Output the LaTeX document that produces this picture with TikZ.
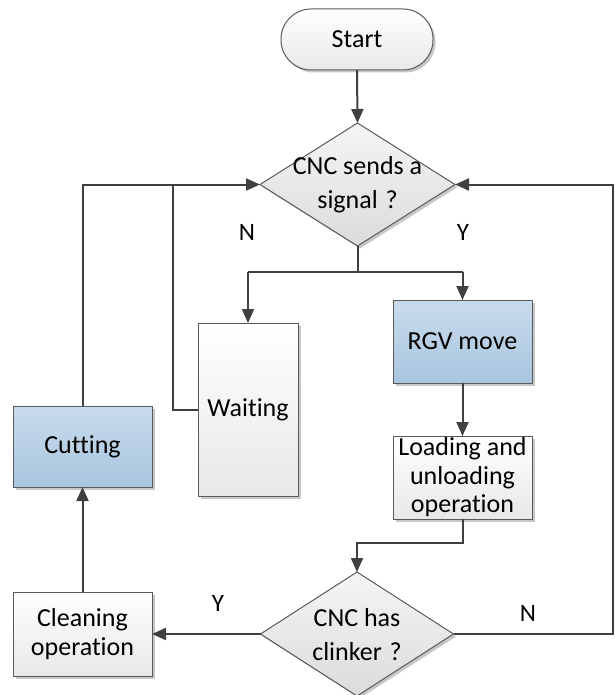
\documentclass[tikz,border=0pt]{standalone}
\usepackage{fontspec}
\setmainfont[Ligatures={NoCommon}]{Carlito}
\usetikzlibrary{shapes.geometric,shadows,arrows.meta}
\definecolor{ln}{HTML}{404040}
\definecolor{edge}{HTML}{5A5A5A}
\definecolor{bluetop}{HTML}{C8DBEC}
\definecolor{bluebot}{HTML}{A9C5DF}
\definecolor{greybot}{HTML}{E8E8E8}
\begin{document}
\begin{tikzpicture}[x=1pt,y=-1pt,
  conn/.style={draw=ln, line width=2pt},
  arr/.style={conn, -{Triangle[length=14pt,width=12pt]}},
  shad/.style={drop shadow={shadow xshift=2.5pt, shadow yshift=-2.5pt, fill=black, opacity=0.22}},
  box/.style={rectangle, draw=edge, line width=1pt, inner sep=0pt, outer sep=0pt,
    align=center, font=\fontsize{26}{28.5}\selectfont, shad},
  bluebox/.style={box, top color=bluetop, bottom color=bluebot},
  whitebox/.style={box, top color=white, bottom color=greybot},
  dia/.style={diamond, draw=edge, line width=1pt, inner sep=0pt, outer sep=0pt,
    top color=white!96!black, bottom color=white!86!black, shad},
  diatext/.style={align=center, inner sep=0pt, font=\fontsize{26}{34}\selectfont},
  lbl/.style={inner sep=0pt, font=\fontsize{25}{28}\selectfont}
]
\useasboundingbox (0,0) rectangle (614,695);

% nodes
\node[whitebox, rounded corners=30pt, minimum width=152pt, minimum height=61pt] (start) at (357,39.5) {Start};
\node[dia, minimum width=195pt, minimum height=123pt] (d1) at (357.5,184.5) {};
\node[diatext] (d1t) at (357.5,185) {CNC sends a\\signal\hspace{0.3em}?\hspace{0.45em}};
\node[whitebox, minimum width=100pt, minimum height=173pt] (wait) at (248,409.5) {Waiting};
\node[bluebox, minimum width=139pt, minimum height=83pt] (rgv) at (462.5,341.5) {RGV move};
\node[whitebox, minimum width=139pt, minimum height=83pt] (load) at (462.5,477.5) {Loading and\\unloading\\operation};
\node[bluebox, minimum width=139pt, minimum height=81pt] (cut) at (82.5,446.5) {Cutting};
\node[whitebox, minimum width=139pt, minimum height=84pt] (clean) at (82.5,634) {Cleaning\\operation};
\node[dia, minimum width=193pt, minimum height=124pt] (d2) at (357,634) {};
\node[diatext] (d2t) at (357,635) {CNC has\\clinker\hspace{0.3em}?\hspace{0.45em}};

% labels
\node[lbl] (n1) at (247,232) {N};
\node[lbl] (y1) at (463,232) {Y};
\node[lbl] (y2) at (218,603) {Y};
\node[lbl] (n2) at (528,613) {N};

% helper coordinates
\coordinate (split) at (357.5,272);
\coordinate (sl) at (248,272);
\coordinate (sr) at (462.5,272);
\coordinate (lb) at (462.5,543);
\coordinate (lt) at (357,543);
\coordinate (rb) at (612.5,634);
\coordinate (rt) at (612.5,184.5);
\coordinate (cl) at (82.5,184.5);
\coordinate (wl) at (173,409.5);
\coordinate (wt) at (173,184.5);

% connectors
\draw[arr] (start.south) -- (d1.north);
\draw[conn] (d1.south) -- (split);
\draw[arr] (sl) -- (wait.north);
\draw[arr] (sr) -- (rgv.north);
\draw[conn] (sl) -- (sr);
\draw[arr] (rgv.south) -- (load.north);
\draw[arr] (load.south) -- (lb) -- (lt) -- (d2.north);
\draw[arr] (d2.west) -- (clean.east);
\draw[arr] (d2.east) -- (rb) -- (rt) -- (d1.east);
\draw[arr] (clean.north) -- (cut.south);
\draw[arr] (cut.north) -- (cl) -- (d1.west);
\draw[conn] (wait.west) -- (wl) -- (wt);
\end{tikzpicture}
\end{document}
